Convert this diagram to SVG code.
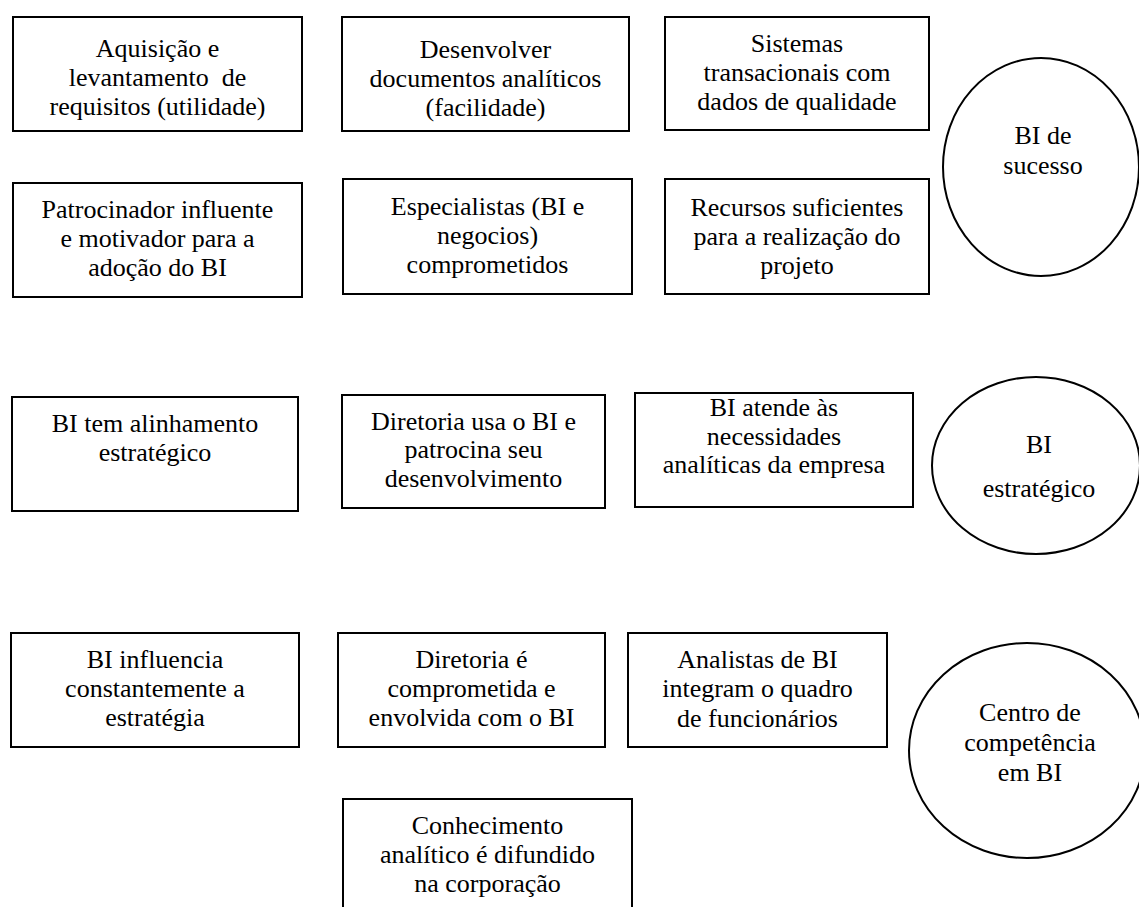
<svg xmlns="http://www.w3.org/2000/svg" width="1139" height="907" viewBox="0 0 1139 907">
  <style>
    .box { fill: #ffffff; stroke: #000000; stroke-width: 2; }
    .oval { fill: #ffffff; stroke: #000000; stroke-width: 2; }
    text { font-family: "Liberation Serif", "Times New Roman", serif; font-size: 26px; fill: #000000; text-anchor: middle; }
  </style>
  <rect x="0" y="0" width="1139" height="907" fill="#ffffff"/>

  <!-- no connectors are drawn between the factors and the outcomes -->
  <g id="connectors"></g>

  <!-- Row 1: factors for a successful BI -->
  <g id="n-aquisicao">
    <rect class="box" x="13" y="17" width="289" height="114"/>
    <text x="157.5" y="57">Aquisição e</text>
    <text x="157.5" y="86" xml:space="preserve">levantamento  de</text>
    <text x="157.5" y="115">requisitos (utilidade)</text>
  </g>
  <g id="n-desenvolver">
    <rect class="box" x="342" y="17" width="287" height="114"/>
    <text x="485.5" y="58">Desenvolver</text>
    <text x="485.5" y="87">documentos analíticos</text>
    <text x="485.5" y="116">(facilidade)</text>
  </g>
  <g id="n-sistemas">
    <rect class="box" x="665" y="17" width="264" height="113"/>
    <text x="797" y="52">Sistemas</text>
    <text x="797" y="81">transacionais com</text>
    <text x="797" y="110">dados de qualidade</text>
  </g>
  <g id="n-bi-sucesso">
    <ellipse class="oval" cx="1041" cy="167" rx="98" ry="109"/>
    <text x="1043" y="144">BI de</text>
    <text x="1043" y="174">sucesso</text>
  </g>

  <g id="n-patrocinador">
    <rect class="box" x="13" y="183" width="289" height="114"/>
    <text x="157.5" y="218">Patrocinador influente</text>
    <text x="157.5" y="247">e motivador para a</text>
    <text x="157.5" y="276">adoção do BI</text>
  </g>
  <g id="n-especialistas">
    <rect class="box" x="343" y="179" width="289" height="115"/>
    <text x="487.5" y="215">Especialistas (BI e</text>
    <text x="487.5" y="244">negocios)</text>
    <text x="487.5" y="273">comprometidos</text>
  </g>
  <g id="n-recursos">
    <rect class="box" x="665" y="179" width="264" height="115"/>
    <text x="797" y="216">Recursos suficientes</text>
    <text x="797" y="245">para a realização do</text>
    <text x="797" y="274">projeto</text>
  </g>

  <!-- Row 2: strategic BI -->
  <g id="n-alinhamento">
    <rect class="box" x="12" y="397" width="286" height="114"/>
    <text x="155" y="432">BI tem alinhamento</text>
    <text x="155" y="461">estratégico</text>
  </g>
  <g id="n-diretoria-usa">
    <rect class="box" x="342" y="395" width="263" height="113"/>
    <text x="473.5" y="430">Diretoria usa o BI e</text>
    <text x="473.5" y="458">patrocina seu</text>
    <text x="473.5" y="487">desenvolvimento</text>
  </g>
  <g id="n-atende">
    <rect class="box" x="635" y="393" width="278" height="114"/>
    <text x="774" y="416">BI atende às</text>
    <text x="774" y="445">necessidades</text>
    <text x="774" y="473">analíticas da empresa</text>
  </g>
  <g id="n-bi-estrategico">
    <ellipse class="oval" cx="1036" cy="465.5" rx="104" ry="88.5"/>
    <text x="1039" y="453">BI</text>
    <text x="1039" y="497">estratégico</text>
  </g>

  <!-- Row 3: BI competence centre -->
  <g id="n-influencia">
    <rect class="box" x="11" y="633" width="288" height="114"/>
    <text x="155" y="668">BI influencia</text>
    <text x="155" y="697">constantemente a</text>
    <text x="155" y="726">estratégia</text>
  </g>
  <g id="n-diretoria-comprometida">
    <rect class="box" x="338" y="633" width="267" height="114"/>
    <text x="471.5" y="668">Diretoria é</text>
    <text x="471.5" y="697">comprometida e</text>
    <text x="471.5" y="726">envolvida com o BI</text>
  </g>
  <g id="n-analistas">
    <rect class="box" x="628" y="633" width="259" height="114"/>
    <text x="757.5" y="668">Analistas de BI</text>
    <text x="757.5" y="697">integram o quadro</text>
    <text x="757.5" y="727">de funcionários</text>
  </g>
  <g id="n-centro">
    <ellipse class="oval" cx="1027" cy="750.5" rx="118" ry="107.5"/>
    <text x="1030" y="721">Centro de</text>
    <text x="1030" y="751">competência</text>
    <text x="1030" y="781">em BI</text>
  </g>
  <g id="n-conhecimento">
    <rect class="box" x="343" y="799" width="289" height="114"/>
    <text x="487.5" y="834">Conhecimento</text>
    <text x="487.5" y="863">analítico é difundido</text>
    <text x="487.5" y="892">na corporação</text>
  </g>
</svg>
